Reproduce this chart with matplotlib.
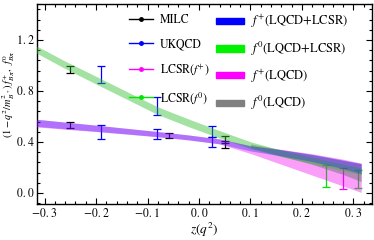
import numpy as np
import matplotlib
matplotlib.use("Agg")
import matplotlib.pyplot as plt
from matplotlib.lines import Line2D
from matplotlib.patches import Patch
from matplotlib.ticker import MultipleLocator, FuncFormatter

plt.rcParams['font.family'] = ['STIXGeneral', 'DejaVu Serif']
plt.rcParams['mathtext.fontset'] = 'stix'

# ---------------- data ----------------
# lattice / LCSR points: z, value, error
milc_z = [-0.25, -0.25, -0.058, 0.05, 0.05]
milc_y = [0.533, 0.968, 0.45, 0.42, 0.38]
milc_e = [0.023, 0.028, 0.02, 0.03, 0.03]

ukqcd_z = [-0.19, -0.19, -0.081, -0.081, 0.025, 0.025]
ukqcd_y = [0.478, 0.93, 0.463, 0.683, 0.40, 0.482]
ukqcd_e = [0.055, 0.066, 0.04, 0.07, 0.04, 0.043]

lcsr_fp_z = [0.28]
lcsr_fp_y = [0.115]
lcsr_fp_e = [0.08]

lcsr_f0_z = [0.246, 0.309]
lcsr_f0_y = [0.135, 0.111]
lcsr_f0_e = [0.085, 0.069]

# bands (at z nodes)
band_z = [-0.32, -0.26, -0.2, -0.14, -0.08, -0.02, 0.04, 0.1, 0.16, 0.22, 0.28, 0.315]
fp_c   = [0.552, 0.530, 0.508, 0.485, 0.462, 0.436, 0.405, 0.350, 0.315, 0.275, 0.225, 0.19]
fp_hw  = [0.028, 0.026, 0.024, 0.022, 0.020, 0.019, 0.019, 0.020, 0.024, 0.028, 0.034, 0.040]
f0_c   = [1.135, 1.005, 0.885, 0.765, 0.645, 0.550, 0.460, 0.375, 0.310, 0.255, 0.200, 0.170]
f0_hw  = [0.028, 0.029, 0.030, 0.030, 0.030, 0.030, 0.029, 0.027, 0.025, 0.025, 0.025, 0.025]
fpl_lo = [0.520, 0.500, 0.482, 0.462, 0.441, 0.416, 0.385, 0.310, 0.225, 0.140, 0.055, 0.005]
fpl_hi = [0.580, 0.556, 0.532, 0.507, 0.482, 0.455, 0.424, 0.372, 0.342, 0.308, 0.265, 0.235]
gray_z  = [0.1, 0.16, 0.22, 0.28, 0.315]
gray_lo = [0.355, 0.290, 0.225, 0.145, 0.090]
gray_hi = [0.385, 0.340, 0.300, 0.255, 0.230]

xticks = [-0.3, -0.2, -0.1, 0.0, 0.1, 0.2, 0.3]
yticks = [0.0, 0.4, 0.8, 1.2]

# ---------------- figure ----------------
W, H = 374, 240
fig = plt.figure(figsize=(W / 100, H / 100), dpi=100)
ax = fig.add_axes([37 / W, 36 / H, (371.5 - 37) / W, 200 / H])

bz = np.array(band_z)
fpc, fph = np.array(fp_c), np.array(fp_hw)
f0c, f0h = np.array(f0_c), np.array(f0_hw)

ax.fill_between(bz, fpl_lo, fpl_hi, color=(0.95, 0, 0.95), alpha=0.38, lw=0, zorder=3)
ax.fill_between(gray_z, gray_lo, gray_hi, color=(0.4, 0.42, 0.42), alpha=0.45, lw=0, zorder=3)
ax.fill_between(bz, f0c - f0h, f0c + f0h, color=(0.2, 0.75, 0.2), alpha=0.45, lw=0, zorder=3)
ax.fill_between(bz, fpc - fph, fpc + fph, color=(0.1, 0.1, 1), alpha=0.33, lw=0, zorder=3)

eb = dict(fmt='none', capsize=3.2, elinewidth=0.9, capthick=0.9, zorder=2)
ax.errorbar(milc_z, milc_y, yerr=milc_e, ecolor='black', **eb)
ax.errorbar(ukqcd_z, ukqcd_y, yerr=ukqcd_e, ecolor='blue', **eb)
ax.errorbar(lcsr_fp_z, lcsr_fp_y, yerr=lcsr_fp_e, ecolor=(1, 0, 1), **eb)
ax.errorbar(lcsr_f0_z, lcsr_f0_y, yerr=lcsr_f0_e, ecolor=(0, 0.9, 0), **eb)

ax.set_xlim(-0.3146, 0.335)
ax.set_ylim(-0.086, 1.482)

def fmt(v, pos):
    s = f"{abs(v):.1f}".replace('.', '.\u2009')
    return ('\u2212' if v < -1e-9 else '') + s

ax.set_xticks(xticks)
ax.set_yticks(yticks)
ax.xaxis.set_major_formatter(FuncFormatter(fmt))
ax.yaxis.set_major_formatter(FuncFormatter(fmt))
ax.xaxis.set_minor_locator(MultipleLocator(0.02))
ax.yaxis.set_minor_locator(MultipleLocator(0.08))
ax.tick_params(which='both', direction='in', top=True, right=True, labelsize=8.5, width=0.8, pad=3)
ax.tick_params(axis='y', pad=2)
ax.tick_params(which='major', length=4)
ax.tick_params(which='minor', length=2)
for s in ax.spines.values():
    s.set_linewidth(1.0)

ax.set_xlabel(r'$z(q^2)$', fontsize=9.5, labelpad=1)
fig.text(9 / W, 1 - 94 / H, r'$(1-q^2/m_{B^*}^2)\;f_{B\pi}^{+},\;\;f_{B\pi}^{0}$',
         rotation=90, ha='center', va='center', fontsize=7.5)

h1 = [Line2D([], [], color=c, marker='o', markersize=2.5, lw=1.0)
      for c in ['black', 'blue', (1, 0, 1), (0, 0.9, 0)]]
l1 = ['MILC', 'UKQCD', r'LCSR$(f^{+})$', r'LCSR$(f^{0})$']
leg1 = ax.legend(h1, l1, loc='upper left', bbox_to_anchor=((129 - 37) / 334.5, (204 - 14) / 200),
                 frameon=False, fontsize=8.5, handlelength=2.0, handletextpad=0.6,
                 labelspacing=1.05, borderpad=0, borderaxespad=0)
ax.add_artist(leg1)
h2 = [Patch(color=c) for c in ['blue', (0, 0.95, 0), (1, 0, 1), (0.5, 0.5, 0.5)]]
l2 = [r'$f^{+}(\mathrm{LQCD{+}LCSR})$', r'$f^{0}(\mathrm{LQCD{+}LCSR})$',
      r'$f^{+}(\mathrm{LQCD})$', r'$f^{0}(\mathrm{LQCD})$']
leg2 = ax.legend(h2, l2, loc='upper left', bbox_to_anchor=((216 - 37) / 334.5, (204 - 13) / 200),
                 frameon=False, fontsize=9, handlelength=2.2, handleheight=0.4,
                 handletextpad=0.6, labelspacing=0.75, borderpad=0, borderaxespad=0)

fig.savefig('out.png', dpi=100)
